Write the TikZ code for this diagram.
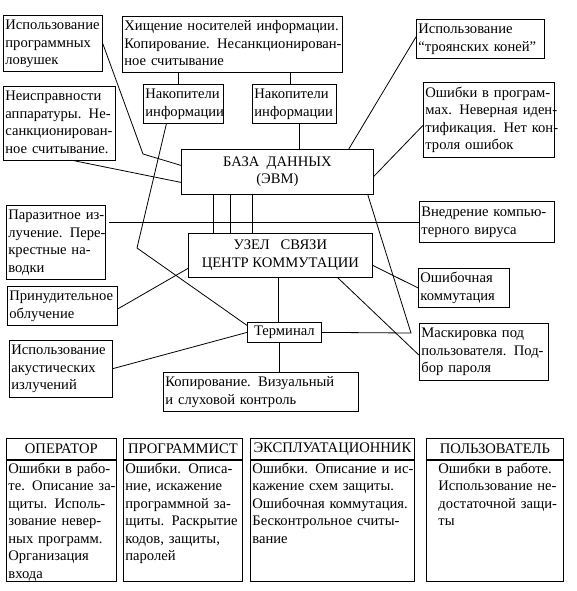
\documentclass[tikz,border=0pt]{standalone}
\usepackage{fontspec}
\setmainfont{Liberation Serif}
\newcommand{\boxlines}[1]{\begin{tabular}[t]{@{}l@{}}#1\end{tabular}}
\begin{document}
\begin{tikzpicture}[x=1pt,y=-1pt,line width=0.8pt,
	box/.style={draw, anchor=north west, inner sep=2pt, align=left},
	cbox/.style={draw, anchor=north west, inner sep=2pt, align=center},
	font=\fontsize{14.6}{17.5}\selectfont]
	\useasboundingbox (0,0) rectangle (576,591);
	\node[box, text width=95pt, minimum height=56pt] (lovush) at (3,15) {\boxlines{Использование\\программных\\ловушек}};
	\node[box, text width=216pt, minimum height=55pt] (hisch) at (122,16) {\boxlines{Хищение носителей информации.\\Копирование. Несанкционирован-\\ное считывание}};
	\node[box, text width=76pt, minimum height=39pt] (nakopA) at (143,84) {\boxlines{Накопители\\информации}};
	\node[box, text width=80pt, minimum height=39pt] (nakopB) at (252,84) {\boxlines{Накопители\\информации}};
	\node[box, text width=108pt, minimum height=69pt] (neispr) at (3,86) {\boxlines{Неисправности\\аппаратуры. Не-\\санкционирован-\\ное считывание.}};
	\node[cbox, minimum width=192pt, minimum height=45pt] (baza) at (181,149) {БАЗА\ \ ДАННЫХ\\(ЭВМ)};
	\node[box, text width=124pt, minimum height=36pt] (troyan) at (416,19) {\boxlines{Использование\\“троянских коней”}};
	\node[box, text width=127pt, minimum height=75pt] (oshprog) at (423,82) {\boxlines{Ошибки в програм-\\мах. Неверная иден-\\тификация. Нет кон-\\троля ошибок}};
	\node[box, text width=95pt, minimum height=67pt] (parazit) at (6,205) {\boxlines{Паразитное из-\\лучение. Пере-\\крестные на-\\водки}};
	\node[cbox, minimum width=184pt, minimum height=44pt] (uzel) at (188,233) {УЗЕЛ\ \ \ СВЯЗИ\\ЦЕНТР КОММУТАЦИИ};
	\node[box, text width=106pt, minimum height=38pt] (prinud) at (7,286) {\boxlines{Принудительное\\облучение}};
	\node[cbox, minimum width=74pt, minimum height=20pt] (term) at (247,322) {Терминал};
	\node[box, text width=99pt, minimum height=53pt] (akust) at (9,340) {\boxlines{Использование\\акустических\\излучений}};
	\node[box, text width=191pt, minimum height=39pt] (kopir) at (163,372) {\boxlines{Копирование. Визуальный\\и слуховой контроль}};
	\node[box, text width=131pt, minimum height=41pt] (vnedr) at (419,201) {\boxlines{Внедрение компью-\\терного вируса}};
	\node[box, text width=87pt, minimum height=39pt] (oshkom) at (418,268) {\boxlines{Ошибочная\\коммутация}};
	\node[box, text width=125pt, minimum height=51pt] (mask) at (419,323) {\boxlines{Маскировка под\\пользователя. Под-\\бор пароля}};
	\node[cbox, minimum width=110pt, minimum height=21pt] (oper) at (6,438) {ОПЕРАТОР};
	\node[box, text width=106pt, text height=11pt, text depth=106pt] (operTxt) at (oper.south west) {\boxlines{Ошибки в рабо-\\те. Описание за-\\щиты. Исполь-\\зование невер-\\ных программ.\\Организация\\входа}};
	\node[cbox, minimum width=119pt, minimum height=21pt] (progr) at (123,438) {ПРОГРАММИСТ};
	\node[box, text width=115pt, text height=11pt, text depth=106pt] (progrTxt) at (progr.south west) {\boxlines{Ошибки. Описа-\\ние, искажение\\программной за-\\щиты. Раскрытие\\кодов, защиты,\\паролей}};
	\node[cbox, minimum width=164pt, minimum height=21pt] (expl) at (250,438) {ЭКСПЛУАТАЦИОННИК};
	\node[box, text width=160pt, text height=11pt, text depth=106pt] (explTxt) at (expl.south west) {\boxlines{Ошибки. Описание и ис-\\кажение схем защиты.\\Ошибочная коммутация.\\Бесконтрольное считы-\\вание}};
	\node[cbox, minimum width=137pt, minimum height=21pt] (polz) at (426,438) {ПОЛЬЗОВАТЕЛЬ};
	\node[box, text width=133pt, text height=11pt, text depth=106pt] (polzTxt) at (polz.south west) {\hspace*{10pt}\boxlines{Ошибки в работе.\\Использование не-\\достаточной защи-\\ты}};
	\coordinate (kinkA) at (143,154);
	\coordinate (kinkB) at (137,248);
	\coordinate (joinM) at (411,333);
	\draw ([xshift=-5pt]nakopA.north) coordinate (p) -- (p |- hisch.south);
	\draw ([xshift=-4pt]nakopB.north) coordinate (p) -- (p |- hisch.south);
	\draw ([xshift=5pt]nakopB.south) coordinate (p) -- (p |- baza.north);
	\draw (lovush.east) -- (kinkA) -- ([yshift=6.5pt]baza.west);
	\draw ([xshift=15pt]neispr.south) -- ([yshift=-10.5pt]baza.west);
	\draw ([xshift=-17pt]nakopA.south) -- (kinkB) -- ([yshift=7pt]term.west);
	\draw ([yshift=2pt]troyan.west) -- ([xshift=-25pt]baza.north east);
	\draw ([yshift=-5.5pt]oshprog.west) -- ([yshift=-4.5pt]baza.east);
	\draw ([xshift=-6pt]baza.south east) -- (joinM) -- (term.east);
	\draw ([xshift=-35pt]uzel.south east) -- ([yshift=-3.5pt]mask.west);
	\draw ([yshift=-10pt]uzel.east) -- (oshkom.west);
	\draw[shorten >=3pt] (vnedr.west) -- (vnedr.west -| parazit.east);
	\foreach \dx in {32,49,71}
		\draw (baza.south west) ++(\dx,0) coordinate (p) -- (p |- uzel.north);
	\draw ([yshift=-3pt]prinud.east) -- ([yshift=-13pt]uzel.west);
	\draw ([xshift=-6pt]term.north) coordinate (p) -- (p |- uzel.south);
	\draw ([xshift=-5pt]term.south) coordinate (p) -- (p |- kopir.north);
	\draw (akust.east) -- (term.west);
\end{tikzpicture}
\end{document}
